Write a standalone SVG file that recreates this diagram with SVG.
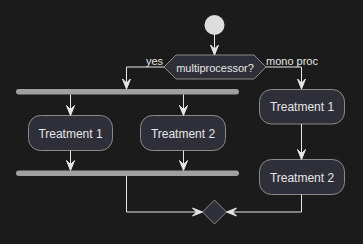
<svg xmlns="http://www.w3.org/2000/svg" width="363" height="244" viewBox="0 0 363 244">
<defs>
<style>
.bg{fill:#1b1b1b}
.box{fill:#2f2f39;stroke:#8a8a8a;stroke-width:1}
.bar{fill:#a0a0a0;stroke:none}
.ln{fill:none;stroke:#e6e6e6;stroke-width:1}
.ah{fill:#e6e6e6;stroke:#e6e6e6;stroke-width:1}
.t{font-family:"Liberation Sans",Arial,sans-serif;font-size:12px;fill:#e6e6e6}
.s{font-family:"Liberation Sans",Arial,sans-serif;font-size:11px;fill:#e6e6e6}
</style>
</defs>
<rect class="bg" x="0" y="0" width="363" height="244"/>
<g id="start"><circle cx="214.5" cy="25" r="10" fill="#dddddd"/></g>
<g id="decision">
<polygon class="box" points="164,67 176,55 254,55 266,67 254,79 176,79"/>
<text class="s" x="215" y="71.5" text-anchor="middle">multiprocessor?</text>
</g>
<g id="fork"><rect class="bar" x="16" y="89" width="223" height="5.5" rx="2.75"/></g>
<g id="t1left"><rect class="box" x="28.5" y="115.5" width="84" height="35" rx="12"/><text class="t" x="70.5" y="137.5" text-anchor="middle">Treatment 1</text></g>
<g id="t2mid"><rect class="box" x="140.5" y="115.5" width="85" height="35" rx="12"/><text class="t" x="183" y="137.5" text-anchor="middle">Treatment 2</text></g>
<g id="join"><rect class="bar" x="16" y="170.5" width="223" height="5.5" rx="2.75"/></g>
<g id="t1right"><rect class="box" x="259.5" y="89.5" width="85" height="34.5" rx="12"/><text class="t" x="302" y="111" text-anchor="middle">Treatment 1</text></g>
<g id="t2right"><rect class="box" x="259.5" y="159.5" width="85" height="35" rx="12"/><text class="t" x="302" y="181.5" text-anchor="middle">Treatment 2</text></g>
<g id="merge"><polygon class="box" points="214.5,200 226.5,212 214.5,224 202.5,212"/></g>
<g id="connectors">
<line class="ln" x1="214.5" y1="35" x2="214.5" y2="54"/>
<polygon class="ah" points="210.5,45 214.5,55 218.5,45 214.5,49"/>
<polyline class="ln" points="164,67 126.5,67 126.5,88"/>
<polygon class="ah" points="122.5,79 126.5,89 130.5,79 126.5,83"/>
<text class="s" x="146" y="64.5">yes</text>
<polyline class="ln" points="266,67 301.5,67 301.5,88"/>
<polygon class="ah" points="297.5,79 301.5,89 305.5,79 301.5,83"/>
<text class="s" x="266" y="64.5">mono proc</text>
<line class="ln" x1="70.5" y1="94.5" x2="70.5" y2="114.5"/>
<polygon class="ah" points="66.5,105.5 70.5,115.5 74.5,105.5 70.5,109.5"/>
<line class="ln" x1="183.5" y1="94.5" x2="183.5" y2="114.5"/>
<polygon class="ah" points="179.5,105.5 183.5,115.5 187.5,105.5 183.5,109.5"/>
<line class="ln" x1="70.5" y1="150.5" x2="70.5" y2="169.5"/>
<polygon class="ah" points="66.5,160.5 70.5,170.5 74.5,160.5 70.5,164.5"/>
<line class="ln" x1="183.5" y1="150.5" x2="183.5" y2="169.5"/>
<polygon class="ah" points="179.5,160.5 183.5,170.5 187.5,160.5 183.5,164.5"/>
<line class="ln" x1="301.5" y1="124" x2="301.5" y2="158.5"/>
<polygon class="ah" points="297.5,149.5 301.5,159.5 305.5,149.5 301.5,153.5"/>
<polyline class="ln" points="126.5,176 126.5,212 201.5,212"/>
<polygon class="ah" points="192.5,208 202.5,212 192.5,216 196.5,212"/>
<polyline class="ln" points="301.5,194.5 301.5,212 227.5,212"/>
<polygon class="ah" points="236.5,208 226.5,212 236.5,216 232.5,212"/>
</g>
</svg>
